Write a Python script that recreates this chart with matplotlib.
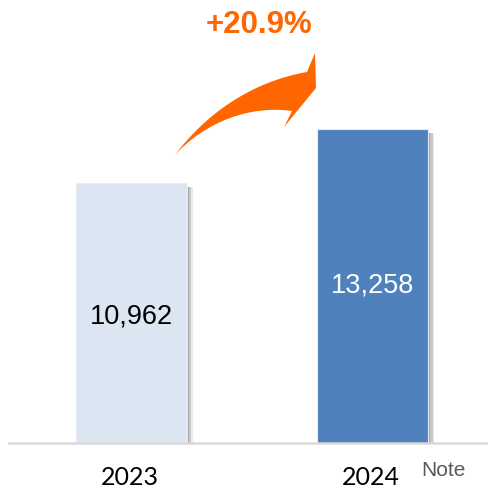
import matplotlib.pyplot as plt
from matplotlib.path import Path
from matplotlib.patches import PathPatch
from matplotlib.transforms import Affine2D

years = ['2023', '2024']
values = [10962, 13258]
value_labels = ['10,962', '13,258']
growth_label = '+20.9%'
bar_colors = ['#dce6f2', '#4f81bd']
label_colors = ['black', 'white']

W, H = 489, 488
fig = plt.figure(figsize=(W / 100, H / 100), dpi=100)
ax = fig.add_axes([0, 0, 1, 1])

# pixel layout
x_px = [131.5, 373.0]          # bar centres
base_px = H - 443              # baseline from bottom
ppu = 260 / values[0]          # pixels per unit in y
xspan = x_px[1] - x_px[0]
ax.set_xlim(-x_px[0] / xspan, (W - x_px[0]) / xspan)
ax.set_ylim(-base_px / ppu, (H - base_px) / ppu)
ax.axis('off')

xs = range(len(years))
width = 111 / xspan
# soft shadow on the right of each bar
for off, a in [(2, 0.35), (4, 0.25), (6, 0.12)]:
    ax.bar([x + off / xspan for x in xs], [v - 4 / ppu for v in values], width=width,
           color='#606060', alpha=a, zorder=1, linewidth=0)
ax.bar(xs, values, width=width, color=bar_colors, edgecolor='#e8eef6', linewidth=0.8, zorder=2)

ax.axhline(0, xmin=9 / W, xmax=1, color='#d9d9d9', lw=1.8, zorder=3)

for x, v, lab, c, f in zip(xs, values, value_labels, label_colors, [0.485, 0.5]):
    ax.text(x, v * f, lab, ha='center', va='center', color=c, fontsize=19.5,
            family='Liberation Sans', zorder=4)

for x, y in zip(xs, years):
    ax.text(x - 2 / xspan, -base_px / ppu + 3 / ppu, y, ha='center', va='baseline',
            fontsize=18, family='Lato', color='black')

fig.text(443 / W, 1 - 471 / H, 'Note', ha='center', va='center', fontsize=15,
         family='Liberation Sans', color='#595959')

# curved growth arrow (figure pixel coords, y downwards)
verts = [(175, 155), (205, 115), (250, 82), (307, 72),
         (315, 53), (316, 88), (284, 127), (292, 111),
         (250, 105), (205, 122), (175, 155)]
codes = [Path.MOVETO, Path.CURVE4, Path.CURVE4, Path.CURVE4,
         Path.LINETO, Path.LINETO, Path.LINETO, Path.LINETO,
         Path.CURVE4, Path.CURVE4, Path.CURVE4]
tr = Affine2D().scale(1 / W, -1 / H).translate(0, 1) + fig.transFigure
fig.patches.append(PathPatch(Path(verts, codes), facecolor='#ff6600', edgecolor='none',
                             transform=tr, figure=fig))

fig.text(259 / W, 1 - 25 / H, growth_label, ha='center', va='center', fontsize=22.5,
         fontweight='bold', family='Liberation Sans', color='#ff6600')

fig.savefig('out.png', dpi=100)
